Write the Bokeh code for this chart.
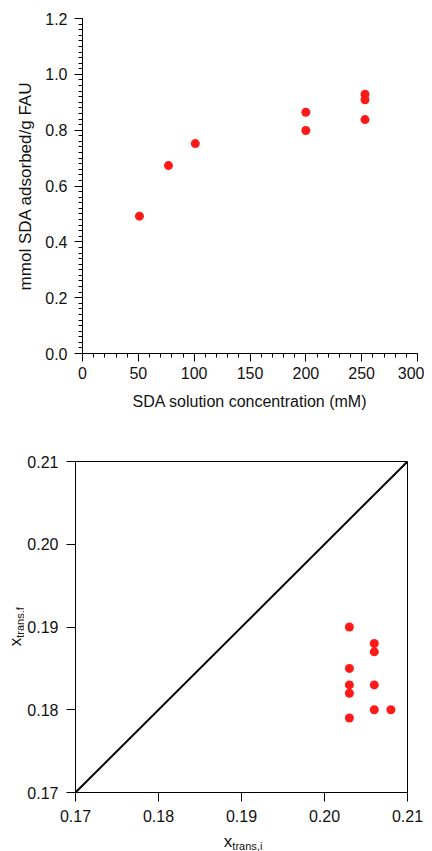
import math
from bokeh.plotting import figure
from bokeh.models import Range1d, FixedTicker, PrintfTickFormatter
from bokeh.core.properties import value
from bokeh.layouts import column, row
from bokeh.embed import file_html
from bokeh.resources import INLINE

# ---- data: top chart ----
conc_mM = [51, 77, 101, 200, 200, 253, 253, 253]
adsorbed = [0.492, 0.673, 0.752, 0.864, 0.799, 0.929, 0.909, 0.838]
top_xticks = [0, 50, 100, 150, 200, 250, 300]
top_xminor = list(range(0, 301, 10))
top_yticks = [0.0, 0.2, 0.4, 0.6, 0.8, 1.0, 1.2]
top_yminor = [round(i * 0.02, 2) for i in range(0, 61)]

# ---- data: bottom chart ----
x_trans_i = [0.203, 0.203, 0.203, 0.203, 0.203, 0.206, 0.206, 0.206, 0.206, 0.208]
x_trans_f = [0.190, 0.185, 0.183, 0.182, 0.179, 0.188, 0.187, 0.183, 0.180, 0.180]
parity = [0.17, 0.21]
bot_ticks = [0.17, 0.18, 0.19, 0.20, 0.21]

FONT = "Liberation Sans"
INK = "#111111"
RED = "#ff1a1a"


def style_axes(p, tick_len=8):
    for ax in (p.xaxis[0], p.yaxis[0]):
        ax.axis_line_color = "black"
        ax.axis_line_width = 1
        ax.major_tick_line_color = "black"
        ax.minor_tick_line_color = "black"
        ax.major_tick_out = tick_len
        ax.major_tick_in = 0
        ax.minor_tick_out = 4
        ax.minor_tick_in = 0
        ax.major_label_text_font = FONT
        ax.major_label_text_font_size = "16px"
        ax.major_label_text_color = INK
        ax.axis_label_text_font = FONT
        ax.axis_label_text_font_style = "normal"
        ax.axis_label_text_color = INK
    p.xgrid.visible = False
    p.ygrid.visible = False


# ---------------- top figure ----------------
p1 = figure(frame_width=335, frame_height=335, output_backend="svg",
            toolbar_location=None, x_range=Range1d(0, 300), y_range=Range1d(0, 1.2),
            min_border_left=82, min_border_right=7, min_border_top=18, min_border_bottom=67)
p1.outline_line_color = None
p1.scatter(conc_mM, adsorbed, size=9, color=RED, line_color=None)
style_axes(p1)
p1.xaxis.ticker = FixedTicker(ticks=top_xticks, minor_ticks=top_xminor)
p1.yaxis.ticker = FixedTicker(ticks=top_yticks, minor_ticks=top_yminor)
p1.yaxis.formatter = PrintfTickFormatter(format="%.1f")
p1.xaxis.axis_label = "SDA solution concentration (mM)"
p1.yaxis.axis_label = "mmol SDA adsorbed/g FAU"
p1.xaxis.axis_label_text_font_size = "16px"
p1.yaxis.axis_label_text_font_size = "17px"
p1.xaxis.axis_label_standoff = 11
p1.yaxis.axis_label_standoff = 7
p1.xaxis.major_label_standoff = 5
p1.yaxis.major_label_standoff = 7

# ---------------- bottom figure ----------------
p2 = figure(frame_width=332, frame_height=331, output_backend="svg",
            toolbar_location=None, x_range=Range1d(0.17, 0.21), y_range=Range1d(0.17, 0.21),
            min_border_left=49, min_border_right=19, min_border_top=41, min_border_bottom=37)
p2.outline_line_color = "black"
p2.outline_line_width = 1
p2.outline_line_alpha = 1
p2.line(parity, parity, line_color="black", line_width=2)
p2.scatter(x_trans_i, x_trans_f, size=9, color=RED, line_color=None)
style_axes(p2, tick_len=9)
p2.xaxis.ticker = FixedTicker(ticks=bot_ticks, minor_ticks=[])
p2.yaxis.ticker = FixedTicker(ticks=bot_ticks, minor_ticks=[])
p2.xaxis.formatter = PrintfTickFormatter(format="%.2f")
p2.yaxis.formatter = PrintfTickFormatter(format="%.2f")
p2.xaxis.major_label_standoff = 8
p2.yaxis.major_label_standoff = 8

# ---- label strips (x with subscripts) ----
ylab = figure(width=24, frame_height=331, output_backend="svg", toolbar_location=None,
              x_range=Range1d(0, 24), y_range=p2.y_range, x_axis_type=None, y_axis_type=None,
              min_border_left=0, min_border_right=0, min_border_top=41, min_border_bottom=59)
ylab.outline_line_color = None
ylab.text(x=[15], y=[0.1887], text=["x"], angle=math.pi / 2, text_align="right",
          text_baseline="alphabetic", text_font=value(FONT), text_font_size="17px", text_color=INK)
ylab.text(x=[19], y=[0.1887], text=["trans,f"], angle=math.pi / 2, text_align="left",
          text_baseline="alphabetic", text_font=value(FONT), text_font_size="11px", text_color=INK)

xlab = figure(frame_width=332, frame_height=22, output_backend="svg", toolbar_location=None,
              x_range=p2.x_range, y_range=Range1d(0, 22), x_axis_type=None, y_axis_type=None,
              min_border_left=49, min_border_right=19, min_border_top=0, min_border_bottom=0)
xlab.outline_line_color = None
xlab.text(x=[0.1889], y=[10], text=["x"], text_align="right", text_baseline="alphabetic",
          text_font=value(FONT), text_font_size="17px", text_color=INK)
xlab.text(x=[0.1889], y=[6], text=["trans,i"], text_align="left", text_baseline="alphabetic",
          text_font=value(FONT), text_font_size="11px", text_color=INK)

layout = column(p1, row(ylab, column(p2, xlab, spacing=0), spacing=0), spacing=0)
open("out.html", "w").write(file_html(layout, INLINE))
